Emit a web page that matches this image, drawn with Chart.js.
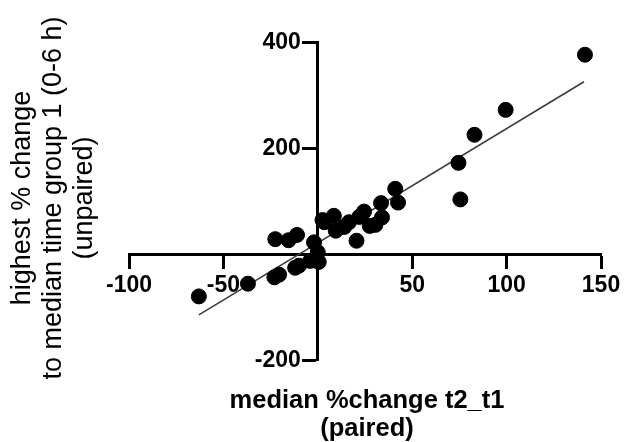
<!DOCTYPE html>
<html>
<head>
<meta charset="utf-8">
<script src="https://cdn.jsdelivr.net/npm/chart.js@4/dist/chart.umd.min.js"></script>
<style>
    html, body { margin: 0; padding: 0; background: #fff; }
    #wrap { width: 627px; height: 442px; }
</style>
</head>
<body>
<div id="wrap"><canvas id="chart" width="627" height="442"></canvas></div>
<script>
// 数据点 (读取自图片)
const xValues = [-63, -37, -23, -20.5, -12, -10, -4, 0.5, 0, -2, -22.5, -15.5, -11,
    3.5, 2.5, 8.5, 9.5, 14, 16.5, 20.5, 22, 24.5, 27.5, 30.5, 34, 33.5, 41, 42.5,
    74.5, 75.5, 83, 99.5, 141.5];
const yValues = [-80, -56, -44, -39, -26, -22, -13, -15, 3, 22, 28, 26, 36,
    60, 64, 72, 44, 51, 60, 25, 70, 80, 53, 55, 69, 96, 123, 97,
    172, 103, 225, 272, 376];

// 回归线两端
const fitX = [-63, 141];
const fitY = [-115, 325];

// 刻度
const xTicks = [-100, -50, 0, 50, 100, 150];
const yTicks = [-200, 0, 200, 400];

// 轴标题
const xTitle = ['median %change t2_t1', '(paired)'];
const yTitle = ['highest % change', 'to median time group 1 (0-6 h)', '(unpaired)'];

const points = xValues.map((x, i) => ({ x: x, y: yValues[i] }));
const fitLine = fitX.map((x, i) => ({ x: x, y: fitY[i] }));

const tickFont = { family: '"Liberation Sans", Arial, sans-serif', size: 23, weight: 'bold' };

// 绘制 y 轴刻度文字和轴标题
const titlePlugin = {
    id: 'axisTitles',
    afterDraw(chart) {
        const ctx = chart.ctx;
        const area = chart.chartArea;
        const cx = (area.left + area.right) / 2;
        const cy = (area.top + area.bottom) / 2;
        const axisX = chart.scales.x.getPixelForValue(0);
        ctx.save();
        ctx.fillStyle = '#000';

        // y 轴刻度文字
        ctx.font = 'bold 23px "Liberation Sans", Arial, sans-serif';
        ctx.textAlign = 'right';
        ctx.textBaseline = 'middle';
        yTicks.forEach(v => {
            if (v === 0) return;
            ctx.fillText(String(v), axisX - 17, chart.scales.y.getPixelForValue(v) + 1);
        });

        ctx.textAlign = 'center';
        ctx.textBaseline = 'alphabetic';
        ctx.font = 'bold 25.5px "Liberation Sans", Arial, sans-serif';
        ctx.fillText(xTitle[0], cx + 2, 408);
        ctx.fillText(xTitle[1], cx + 2, 436);

        ctx.font = '27px "Liberation Sans", Arial, sans-serif';
        ctx.translate(0, cy - 3);
        ctx.rotate(-Math.PI / 2);
        ctx.fillText(yTitle[0], 0, 30);
        ctx.fillText(yTitle[1], 0, 61);
        ctx.fillText(yTitle[2], 0, 92);
        ctx.restore();
    }
};

new Chart(document.getElementById('chart'), {
    type: 'scatter',
    data: {
        datasets: [{
            type: 'line',
            data: fitLine,
            borderColor: '#3a3a3a',
            borderWidth: 1.5,
            pointRadius: 0,
            fill: false,
            order: 2
        }, {
            data: points,
            backgroundColor: '#000',
            borderColor: '#000',
            pointRadius: 7.5,
            pointHoverRadius: 7.5,
            order: 1,
            clip: false
        }]
    },
    options: {
        responsive: false,
        animation: false,
        devicePixelRatio: 1,
        layout: {
            autoPadding: false,
            padding: { left: 129, right: 26, top: 42, bottom: 82 }
        },
        plugins: {
            legend: { display: false },
            tooltip: { enabled: false }
        },
        scales: {
            x: {
                type: 'linear',
                min: -100,
                max: 150,
                position: { y: 0 },
                afterBuildTicks: scale => { scale.ticks = xTicks.map(v => ({ value: v })); },
                afterFit: scale => { scale.height = 0; },
                ticks: {
                    callback: v => v === 0 ? '' : v,
                    font: tickFont,
                    color: '#000',
                    padding: 5,
                    maxRotation: 0
                },
                grid: {
                    drawOnChartArea: false,
                    drawTicks: true,
                    tickLength: 13,
                    tickWidth: 3,
                    tickColor: '#000'
                },
                border: { color: '#000', width: 3 }
            },
            y: {
                type: 'linear',
                min: -200,
                max: 400,
                position: { x: 0 },
                afterBuildTicks: scale => { scale.ticks = yTicks.map(v => ({ value: v })); },
                afterFit: scale => { scale.width = 0; },
                ticks: { display: false },
                grid: {
                    drawOnChartArea: false,
                    drawTicks: true,
                    tickLength: 14,
                    tickWidth: 3,
                    tickColor: '#000'
                },
                border: { color: '#000', width: 3 }
            }
        }
    },
    plugins: [titlePlugin]
});
</script>
</body>
</html>
